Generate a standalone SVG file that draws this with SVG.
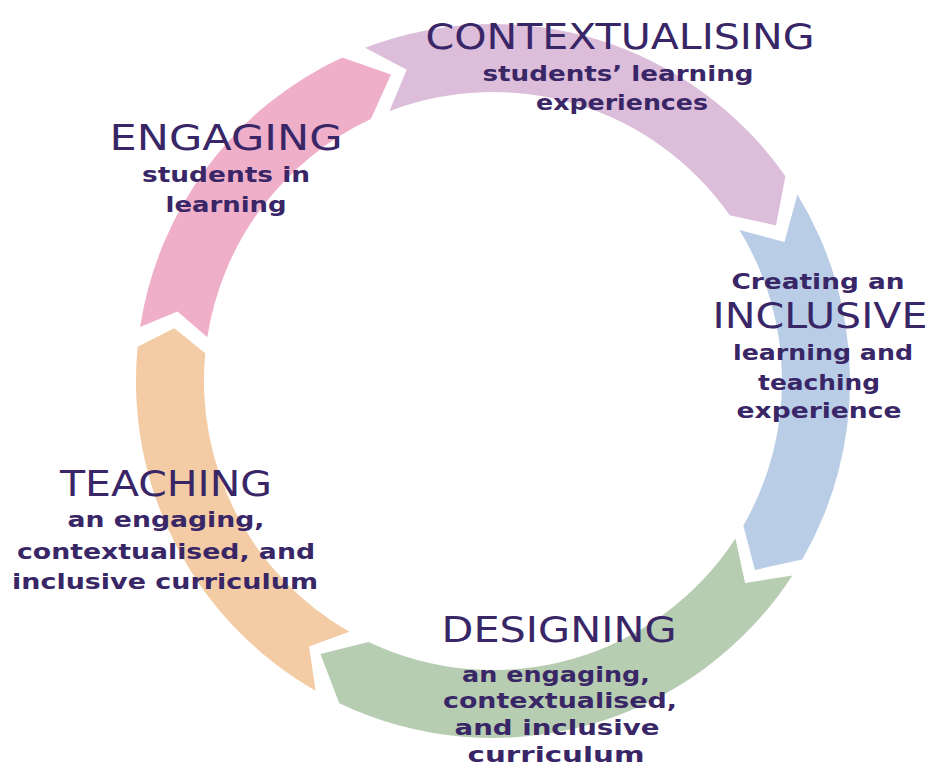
<svg xmlns="http://www.w3.org/2000/svg" width="933" height="769" viewBox="0 0 933 769">
  <style>
    .title { font-family: "DejaVu Sans", Verdana, sans-serif; font-size: 36px; fill: #392667; text-anchor: middle; }
    .sub { font-family: "DejaVu Sans", Verdana, sans-serif; font-size: 22px; font-weight: bold; fill: #392667; text-anchor: middle; }
    .pink { fill: #F0AFC9; }
    .lilac { fill: #DCBEDA; }
    .blue { fill: #B9CDE6; }
    .green { fill: #B6CDB2; }
    .peach { fill: #F3CCA5; }
  </style>
  <rect width="933" height="769" fill="#FFFFFF"/>
  <g id="connectors"></g>

  <g id="engaging">
    <path class="pink" d="M140.1,327.0 A357,357 0 0 1 342.1,57.4 L391.0,74.5 L370.9,119.1 A289,289 0 0 0 207.3,337.3 L177.5,311.6 Z"/>
    <text class="title" x="226" y="150" textLength="233" lengthAdjust="spacingAndGlyphs">ENGAGING</text>
    <text class="sub" x="226" y="182" textLength="168" lengthAdjust="spacingAndGlyphs">students in</text>
    <text class="sub" x="226" y="212" textLength="121" lengthAdjust="spacingAndGlyphs">learning</text>
  </g>

  <g id="contextualising">
    <path class="lilac" d="M365.1,47.7 A357,357 0 0 1 785.4,176.2 L776.0,225.4 L729.7,215.2 A289,289 0 0 0 389.4,111.2 L406.7,69.7 Z"/>
    <text class="title" x="620" y="49" textLength="389" lengthAdjust="spacingAndGlyphs">CONTEXTUALISING</text>
    <text class="sub" x="618" y="81" textLength="271" lengthAdjust="spacingAndGlyphs">students’ learning</text>
    <text class="sub" x="622" y="110" textLength="172" lengthAdjust="spacingAndGlyphs">experiences</text>
  </g>

  <g id="inclusive">
    <path class="blue" d="M797.4,194.5 A357,357 0 0 1 802.2,559.5 L755.0,569.9 L743.3,525.5 A289,289 0 0 0 739.4,230.0 L784.5,242.0 Z"/>
    <text class="sub" x="818" y="289" textLength="173" lengthAdjust="spacingAndGlyphs">Creating an</text>
    <text class="title" x="820" y="328" textLength="215" lengthAdjust="spacingAndGlyphs">INCLUSIVE</text>
    <text class="sub" x="823" y="360" textLength="180" lengthAdjust="spacingAndGlyphs">learning and</text>
    <text class="sub" x="819" y="390" textLength="122" lengthAdjust="spacingAndGlyphs">teaching</text>
    <text class="sub" x="819" y="418" textLength="165" lengthAdjust="spacingAndGlyphs">experience</text>
  </g>

  <g id="designing">
    <path class="green" d="M792.4,575.4 A357,357 0 0 1 339.3,703.2 L320.4,654.0 L368.6,641.9 A289,289 0 0 0 735.4,538.4 L745.1,583.0 Z"/>
    <text class="title" x="559" y="642" textLength="235" lengthAdjust="spacingAndGlyphs">DESIGNING</text>
    <text class="sub" x="556" y="682" textLength="188" lengthAdjust="spacingAndGlyphs">an engaging,</text>
    <text class="sub" x="560" y="708" textLength="234" lengthAdjust="spacingAndGlyphs">contextualised,</text>
    <text class="sub" x="557" y="735" textLength="205" lengthAdjust="spacingAndGlyphs">and inclusive</text>
    <text class="sub" x="556" y="762" textLength="177" lengthAdjust="spacingAndGlyphs">curriculum</text>
  </g>

  <g id="teaching">
    <path class="peach" d="M315.6,690.8 A357,357 0 0 1 137.6,346.8 L174.3,328.2 L205.3,353.3 A289,289 0 0 0 349.4,631.8 L309.1,646.6 Z"/>
    <text class="title" x="166" y="496" textLength="212" lengthAdjust="spacingAndGlyphs">TEACHING</text>
    <text class="sub" x="166" y="527" textLength="197" lengthAdjust="spacingAndGlyphs">an engaging,</text>
    <text class="sub" x="166" y="559" textLength="298" lengthAdjust="spacingAndGlyphs">contextualised, and</text>
    <text class="sub" x="165" y="589" textLength="306" lengthAdjust="spacingAndGlyphs">inclusive curriculum</text>
  </g>
</svg>
